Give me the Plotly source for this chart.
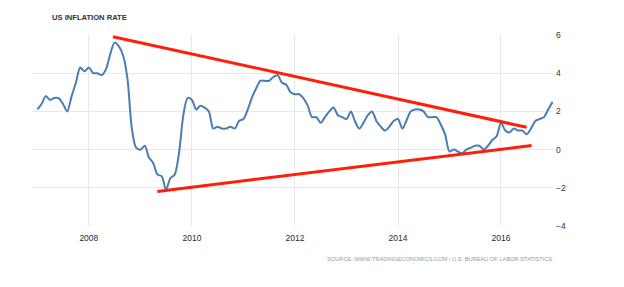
import plotly.graph_objects as go
import pandas as pd

# Monthly US CPI inflation (%), Jan 2007 - Jan 2017
dates = pd.date_range("2007-01-01", "2017-01-01", freq="MS")
inflation = [
    2.1, 2.4, 2.8, 2.6, 2.7, 2.7, 2.4, 2.0, 2.8, 3.5, 4.3, 4.1,   # 2007
    4.3, 4.0, 4.0, 3.9, 4.2, 5.0, 5.6, 5.4, 4.9, 3.7, 1.1, 0.1,   # 2008
    0.0, 0.2, -0.4, -0.7, -1.3, -1.4, -2.1, -1.5, -1.3, -0.2, 1.8, 2.7,  # 2009
    2.6, 2.1, 2.3, 2.2, 2.0, 1.1, 1.2, 1.1, 1.1, 1.2, 1.1, 1.5,   # 2010
    1.6, 2.1, 2.7, 3.2, 3.6, 3.6, 3.6, 3.8, 3.9, 3.5, 3.4, 3.0,   # 2011
    2.9, 2.9, 2.7, 2.3, 1.7, 1.7, 1.4, 1.7, 2.0, 2.2, 1.8, 1.7,   # 2012
    1.6, 2.0, 1.5, 1.1, 1.4, 1.8, 2.0, 1.5, 1.2, 1.0, 1.2, 1.5,   # 2013
    1.6, 1.1, 1.5, 2.0, 2.1, 2.1, 2.0, 1.7, 1.7, 1.7, 1.3, 0.8,   # 2014
    -0.1, 0.0, -0.1, -0.2, 0.0, 0.1, 0.2, 0.2, 0.0, 0.2, 0.5, 0.7,  # 2015
    1.4, 1.0, 0.9, 1.1, 1.0, 1.0, 0.8, 1.1, 1.5, 1.6, 1.7, 2.1,   # 2016
    2.5,                                                          # 2017
]

# Hand-drawn trend lines (endpoints)
upper_x = ["2008-06-20", "2016-07-01"]
upper_y = [5.91, 1.17]
lower_x = ["2009-05-01", "2016-08-05"]
lower_y = [-2.19, 0.21]

x_ticks = ["2008-01-01", "2010-01-01", "2012-01-01", "2014-01-01", "2016-01-01"]
x_tick_labels = ["2008", "2010", "2012", "2014", "2016"]
y_ticks = [-4, -2, 0, 2, 4, 6]

title_text = "US INFLATION RATE"
source_text = "SOURCE: WWW.TRADINGECONOMICS.COM | U.S. BUREAU OF LABOR STATISTICS"

fig = go.Figure()
fig.add_trace(go.Scatter(
    x=dates, y=inflation, mode="lines",
    line=dict(color="#4a7db3", width=2, shape="spline", smoothing=0.8),
    hoverinfo="x+y", showlegend=False,
))
fig.add_trace(go.Scatter(
    x=upper_x, y=upper_y, mode="lines",
    line=dict(color="#ff1e0a", width=3), showlegend=False,
))
fig.add_trace(go.Scatter(
    x=lower_x, y=lower_y, mode="lines",
    line=dict(color="#ff1e0a", width=3), showlegend=False,
))

fig.update_layout(
    width=624, height=287,
    margin=dict(l=32, r=71, t=35, b=61),
    paper_bgcolor="white", plot_bgcolor="white",
    font=dict(family="Liberation Sans, Arial, sans-serif", color="#333333"),
    xaxis=dict(
        type="date",
        range=["2006-11-24", "2017-01-04"],
        tickvals=x_ticks, ticktext=x_tick_labels,
        showgrid=True, gridcolor="#e8e8e8", gridwidth=1,
        zeroline=False, showline=False, ticks="",
        tickfont=dict(size=8.5, color="#2a2a2a"),
        ticklabelstandoff=5,
    ),
    yaxis=dict(
        range=[-4, 6], side="right",
        tickvals=y_ticks,
        showgrid=True, gridcolor="#e8e8e8", gridwidth=1,
        zeroline=False, showline=False, ticks="",
        tickfont=dict(size=8.5, color="#333333"),
        ticklabelstandoff=2,
    ),
    annotations=[
        dict(text="<b>" + title_text + "</b>", xref="paper", yref="paper",
             x=(50 - 32) / 521, y=(226 - 17) / 191, xanchor="left", yanchor="middle",
             showarrow=False,
             font=dict(family="Liberation Sans, Arial, sans-serif", size=7.6, color="#333333")),
        dict(text=source_text, xref="paper", yref="paper",
             x=(555 - 32) / 521, y=(226 - 259) / 191, xanchor="right", yanchor="middle",
             showarrow=False,
             font=dict(family="Liberation Sans, Arial, sans-serif", size=5.7, color="#9a9a9a")),
    ],
)

fig.write_html("out.html")
